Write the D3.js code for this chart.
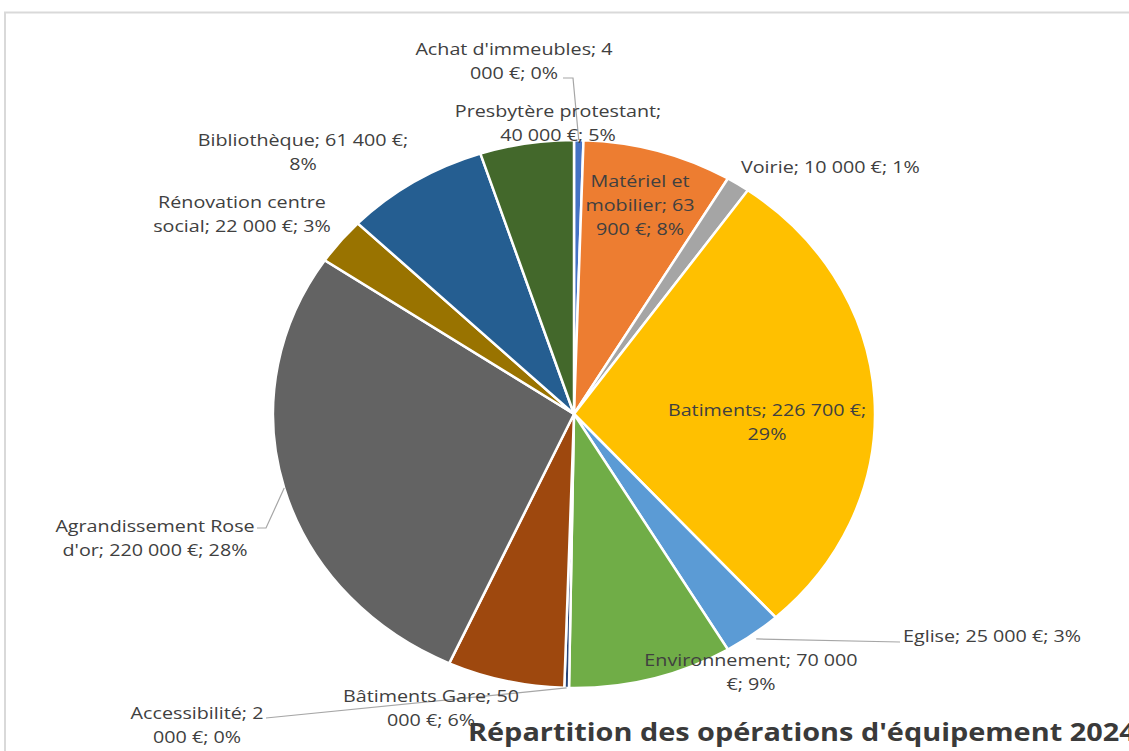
<!DOCTYPE html>
<html>
<head>
<meta charset="utf-8">
<script src="https://cdn.jsdelivr.net/npm/d3@7"></script>
<style>
  body { margin: 0; background: #fff; }
  svg { display: block; }
  text { font-family: "Open Sans", "Noto Sans", sans-serif; fill: #404040; }
</style>
</head>
<body>
<div id="chart"></div>
<script>
// postes, montants (€) et couleurs des parts
var postes = ["Achat d'immeubles", "Matériel et mobilier", "Voirie", "Batiments", "Eglise",
  "Environnement", "Accessibilité", "Bâtiments Gare", "Agrandissement Rose d'or",
  "Rénovation centre social", "Bibliothèque", "Presbytère protestant"];
var montants = [4000, 63900, 10000, 226700, 25000, 70000, 2000, 50000, 220000, 22000, 61400, 40000];
var couleurs = ["#4472C4", "#ED7D31", "#A5A5A5", "#FFC000", "#5B9BD5", "#70AD47",
  "#264478", "#9E480E", "#636363", "#997300", "#255E91", "#43682B"];

// texte des étiquettes (coupé comme dans l'original)
var etiquettes = [
  ["Achat d'immeubles; 4", "000 €; 0%"],
  ["Matériel et", "mobilier; 63", "900 €; 8%"],
  ["Voirie; 10 000 €; 1%"],
  ["Batiments; 226 700 €;", "29%"],
  ["Eglise; 25 000 €; 3%"],
  ["Environnement; 70 000", "€; 9%"],
  ["Accessibilité; 2", "000 €; 0%"],
  ["Bâtiments Gare; 50", "000 €; 6%"],
  ["Agrandissement Rose", "d'or; 220 000 €; 28%"],
  ["Rénovation centre", "social; 22 000 €; 3%"],
  ["Bibliothèque; 61 400 €;", "8%"],
  ["Presbytère protestant;", "40 000 €; 5%"]
];
var titre = "Répartition des opérations d'équipement 2024";

var width = 1129,
    height = 751;

var cx = 574, cy = 414, rx = 301, ry = 274;
var etire = 1.16; // l'image d'origine est étirée en largeur

// position de chaque étiquette : x, baseline de la 1re ligne, ancrage
var placeEtiq = [
  [514, 55, "middle"],
  [640, 187, "middle"],
  [741, 173, "start"],
  [767, 416, "middle"],
  [903, 642, "start"],
  [751, 666, "middle"],
  [197, 719, "middle"],
  [431, 702, "middle"],
  [155, 532, "middle"],
  [242, 208, "middle"],
  [303, 146, "middle"],
  [558, 117, "middle"]
];

var svg = d3.select("#chart")
  .append("svg")
  .attr("width", width)
  .attr("height", height);

// cadre du graphique
svg.append("path")
  .attr("d", "M5,751 V12.5 H1129")
  .attr("fill", "none")
  .attr("stroke", "#d9d9d9")
  .attr("stroke-width", 2);

var pie = d3.pie().sort(null).value(function(d) { return d })
var arcs = pie(montants)

var arc = d3.arc().innerRadius(0).outerRadius(ry)

var g = svg.append("g")
  .attr("transform", "translate(" + cx + "," + cy + ") scale(" + (rx / ry) + ",1)")

g.selectAll(".part")
  .data(arcs)
  .enter().append("path")
  .attr("class", "part")
  .attr("d", arc)
  .attr("fill", function(d, i) { return couleurs[i] })
  .attr("stroke", "#fff")
  .attr("stroke-width", 2.5)
  .attr("vector-effect", "non-scaling-stroke")

function bord(i, k) {
  var a = (arcs[i].startAngle + arcs[i].endAngle) / 2
  return [cx + rx * k * Math.sin(a), cy - ry * k * Math.cos(a)]
}

// lignes de rappel
var rappels = [
  [0, [[563, 78], [573, 78]], 1],
  [4, [[900, 642]], 1.02],
  [6, [[266, 718]], 1.0],
  [8, [[257, 528], [266, 528]], 1.0]
]
rappels.forEach(function(r) {
  var pts = r[1].concat([bord(r[0], r[2])])
  svg.append("path")
    .attr("d", d3.line()(pts))
    .attr("fill", "none")
    .attr("stroke", "#a6a6a6")
    .attr("stroke-width", 1.2)
})

// étiquettes
etiquettes.forEach(function(lignes, i) {
  var p = placeEtiq[i]
  var t = svg.append("text")
    .attr("transform", "translate(" + p[0] + "," + p[1] + ") scale(" + etire + ",1)")
    .attr("text-anchor", p[2])
    .attr("font-size", 17)
  lignes.forEach(function(l, j) {
    t.append("tspan")
      .attr("x", 0)
      .attr("y", j * 24)
      .text(l)
  })
})

svg.append("text")
  .attr("transform", "translate(468,741) scale(1.155,1)")
  .attr("font-size", 25)
  .attr("font-weight", "bold")
  .style("fill", "#3a3a3a")
  .text(titre)
</script>
</body>
</html>
